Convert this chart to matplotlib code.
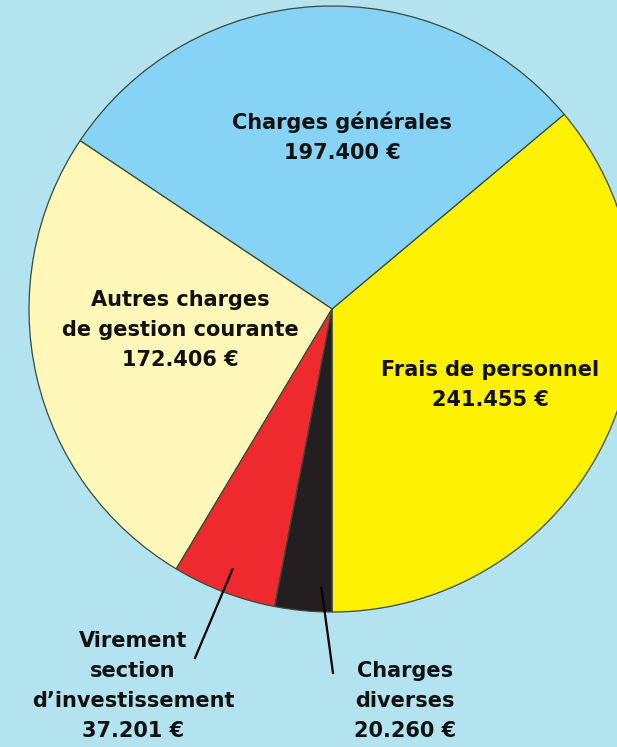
import numpy as np
import matplotlib.pyplot as plt

# data
labels = ["Frais de personnel", "Charges générales", "Autres charges\nde gestion courante",
          "Virement\nsection\nd’investissement", "Charges\ndiverses"]
values = [241455, 197400, 172406, 37201, 20260]
value_text = ["241.455 €", "197.400 €", "172.406 €", "37.201 €", "20.260 €"]
colors = ["#fff200", "#86d3f5", "#fff8b8", "#ee2a2e", "#231f20"]

BG = "#b3e3ef"
W, H = 617, 747
CX, CY, R = 332, H - 309, 303

fig = plt.figure(figsize=(W / 100, H / 100), dpi=100, facecolor=BG)
ax = fig.add_axes([0, 0, 1, 1])
ax.set_facecolor(BG)

wedges, _ = ax.pie(values, colors=colors, startangle=-90, counterclock=True,
                   center=(CX, CY), radius=R,
                   wedgeprops=dict(edgecolor="#3a4a3a", linewidth=0.9))
ax.set_xlim(0, W)
ax.set_ylim(0, H)
ax.set_aspect("equal")
ax.axis("off")

font = dict(fontsize=15, fontweight="bold", family="DejaVu Sans", color="#111111",
            ha="center", va="center", linespacing=1.62)

# labels inside the pie (x, y in pixels from top-left)
inside = {0: (490, 385), 1: (342, 137), 2: (180, 330)}
for i, (x, y) in inside.items():
    ax.text(x, H - y, labels[i] + "\n" + value_text[i], **font)

# labels outside with leader lines: (text x, text y, line end x, line end y, position in wedge)
outside = {3: (133, 686, 195, 658, 0.5), 4: (405, 701, 333, 673, 0.8)}
for i, (x, y, lx, ly, f) in outside.items():
    ax.text(x, H - y, labels[i] + "\n" + value_text[i], **font)
    w = wedges[i]
    a = np.deg2rad(w.theta1 + f * (w.theta2 - w.theta1))
    px, py = CX + 0.92 * R * np.cos(a), CY + 0.92 * R * np.sin(a)
    ax.plot([px, lx], [py, H - ly], color="black", lw=1.6)

fig.savefig("out.png", dpi=100, facecolor=BG)
